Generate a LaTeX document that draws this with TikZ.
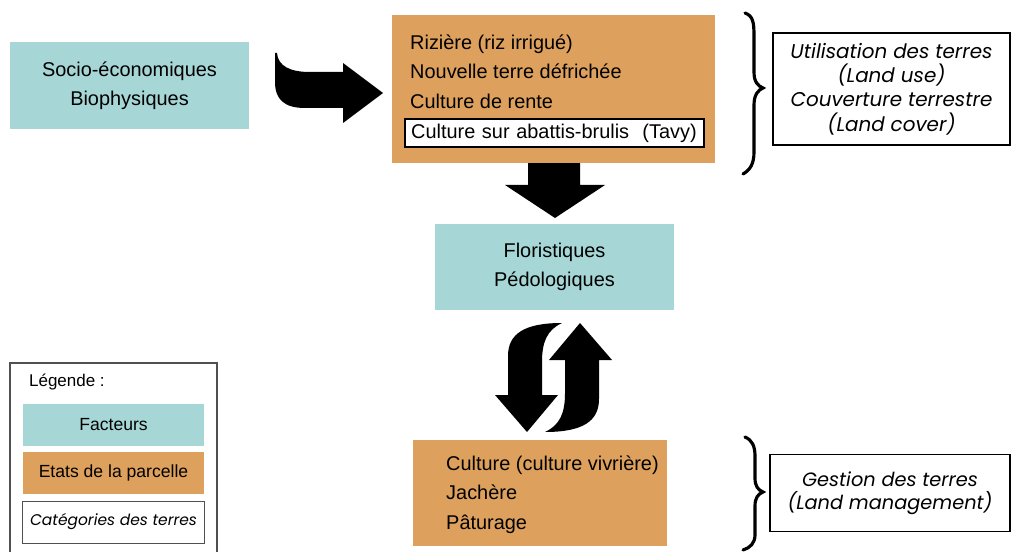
\documentclass[tikz,border=0pt]{standalone}
\usepackage{fontspec}
\setmainfont{Liberation Sans}
\newfontfamily\gothicfont{Poppins}
\usetikzlibrary{positioning,calc}
\definecolor{factcol}{RGB}{166,214,214}
\definecolor{etatcol}{RGB}{222,161,93}
\definecolor{legcol}{RGB}{80,80,80}
\tikzset{
  % facteur box
  factbox/.style={rectangle, fill=factcol, minimum width=#1, align=center,
                  font=\fontsize{17}{24.5}\selectfont},
  % etat de la parcelle box
  etatbox/.style={rectangle, fill=etatcol, minimum width=#1},
  % categorie des terres box
  catbox/.style={rectangle, draw=black, line width=0.35mm, fill=white, minimum width=#1, align=center,
                 font=\gothicfont\itshape\fontsize{17}{20.8}\selectfont},
  % text lines inside etat box
  etattext/.style={anchor=north west, align=left, inner sep=0pt, font=\fontsize{17}{24.8}\selectfont},
  % legend entries
  legbox/.style={rectangle, minimum width=54.3mm, minimum height=12.6mm, font=\fontsize{15}{17}\selectfont},
  % big filled arrows
  bigarrow/.style={fill=black},
  % curly braces
  brace/.style={draw=black, line width=0.95mm, line cap=round}
}
\begin{document}
\begin{tikzpicture}[x=0.3mm, y=-0.3mm]
  \useasboundingbox (0,0) rectangle (1011,552);

  % top row
  \node[factbox=71.7mm, minimum height=26.1mm] (socio) at (129.5,85.5) {Socio-économiques\\Biophysiques};
  \node[etatbox=96.9mm, minimum height=44.4mm] (etats) at (553.5,89) {};
  \node[etattext] (etatlines) at (410,35) {Rizière (riz irrigué)\\Nouvelle terre défrichée\\Culture de rente};
  \node[rectangle, draw=black, line width=0.4mm, fill=white, minimum width=89.7mm, minimum height=8.4mm,
        font=\fontsize{17}{20}\selectfont, text width=86mm, align=left, inner xsep=1.2mm] (tavy) at (554.5,133)
        {Culture sur abattis-brulis\ \ (Tavy)};

  % curved arrow socio -> etats
  \fill[bigarrow] (275,53) -- (275,82) .. controls (275,100) and (285,108) .. (305,108) -- (343,108)
     -- (343,123) -- (383,93) -- (343,63) -- (343,72) -- (310,72)
     .. controls (290,72) and (278,66) .. (277,53) -- cycle;

  % middle
  \node[factbox=71.7mm, minimum height=25.8mm] (flor) at (554.5,267) {Floristiques\\Pédologiques};
  \fill[bigarrow] (etats.south -| 528,0) -- (528,185) -- (505,185) -- (555,218) -- (605,185)
     -- (580,185) -- (etats.south -| 580,0) -- cycle;

  % bottom
  \node[etatbox=76.2mm, minimum height=31.8mm] (gestion) at (540,493) {};
  \node[etattext] (gestlines) at (446,456) {Culture (culture vivrière)\\Jachère\\Pâturage};

  % exchange arrows between flor and gestion
  \foreach \ang in {0,180}
    \fill[bigarrow, rotate around={\ang:(553.5,377.5)}] (508,395) -- (508,356)
       .. controls (508,334) and (524,323) .. (562,323)
       .. controls (547,330) and (542,342) .. (542,362) -- (542,395) -- (558,395)
       -- (527,432) -- (495,395) -- cycle;

  % braces and categories
  \draw[brace] (745,13) .. controls (753,16) and (754,22) .. (754,36) -- (754,72)
     .. controls (754,82) and (758,86) .. (763,88) .. controls (758,90) and (754,95) .. (754,105)
     -- (754,152) .. controls (754,164) and (750,170) .. (743,174);
  \node[catbox=71.1mm, minimum height=33.6mm] (landuse) at (891.5,89)
     {Utilisation des terres\\(Land use)\\Couverture terrestre\\(Land cover)};

  \draw[brace] (745,437) .. controls (752,440) and (755,446) .. (755,456) -- (755,478)
     .. controls (755,486) and (758,490) .. (763,492) .. controls (758,494) and (755,498) .. (755,506)
     -- (755,535) .. controls (755,543) and (750,548) .. (743,550);
  \node[catbox=72mm, minimum height=23.1mm, font=\gothicfont\itshape\fontsize{16.5}{20}\selectfont]
     (landmgmt) at (890,493) {Gestion des terres\\(Land management)};

  % legend
  \draw[legcol, line width=0.4mm] (10,363) rectangle (217,580);
  \node[anchor=west, font=\fontsize{14.5}{16}\selectfont] (legtitle) at (25,382) {Légende :};
  \node[legbox, fill=factcol] (legfact) at (113.5,425) {Facteurs};
  \node[legbox, fill=etatcol] (legetat) at (113.5,473) {Etats de la parcelle};
  \node[legbox, draw=legcol, line width=0.3mm, fill=white, font=\gothicfont\itshape\fontsize{13.2}{15}\selectfont]
     (legcat) at (113.5,522) {Catégories des terres};
\end{tikzpicture}
\end{document}
